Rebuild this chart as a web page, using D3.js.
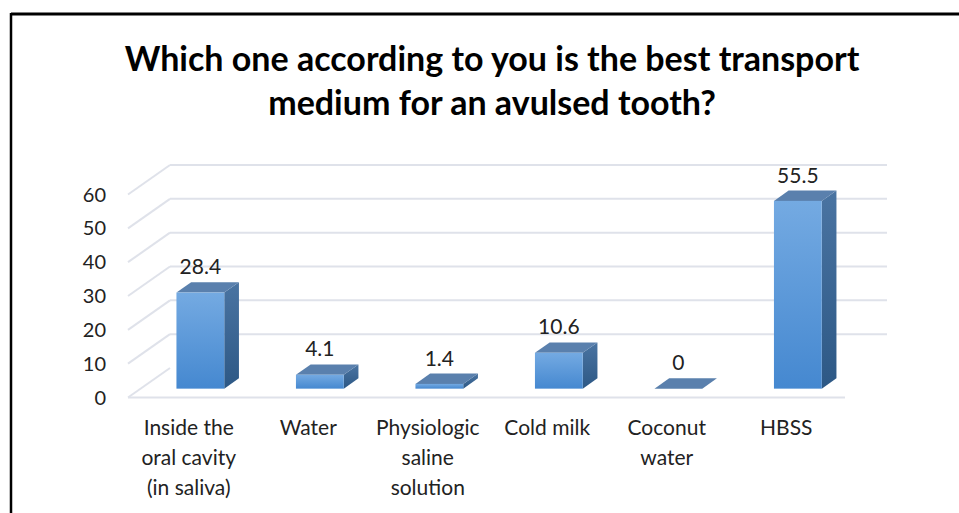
<!DOCTYPE html>
<html>
<head>
<meta charset="utf-8">
<script src="https://cdn.jsdelivr.net/npm/d3@7"></script>
<style>
  body { margin: 0; background: #fff; }
  svg { display: block; font-family: Lato, "Open Sans", sans-serif; }
</style>
</head>
<body>
<svg id="chart" width="959" height="513"></svg>
<script>
// chart data
var categories = [
  ["Inside the", "oral cavity", "(in saliva)"],
  ["Water"],
  ["Physiologic", "saline", "solution"],
  ["Cold milk"],
  ["Coconut", "water"],
  ["HBSS"]
];
var values = [28.4, 4.1, 1.4, 10.6, 0, 55.5];
var yTicks = [0, 10, 20, 30, 40, 50, 60];
var titleLines = ["Which one according to you is the best transport", "medium for an avulsed tooth?"];

var svg = d3.select("#chart");

// frame (only top and left edge are visible in the crop)
svg.append("line").attr("x1", 11).attr("y1", 14).attr("x2", 959).attr("y2", 14)
  .attr("stroke", "#000").attr("stroke-width", 3);
svg.append("line").attr("x1", 11).attr("y1", 13).attr("x2", 11).attr("y2", 513)
  .attr("stroke", "#000").attr("stroke-width", 2.5);

// title
svg.append("g").selectAll("text")
  .data(titleLines)
  .enter().append("text")
  .attr("x", 492)
  .attr("y", (d, i) => 71 + i * 44)
  .attr("text-anchor", "middle")
  .attr("font-size", 34)
  .attr("font-weight", "bold")
  .attr("fill", "#000")
  .text(d => d);

// 3d-ish setup: back wall at depth 0, front edge at depth 1
var X0 = 170, DX = 42, DY = 29.5;
var x = d3.scaleBand()
  .domain(d3.range(categories.length))
  .range([0, 717])
  .paddingInner(0.6)
  .paddingOuter(0.3);
var y = d3.scaleLinear().domain([0, 60]).range([368, 165]);

function px(x0, d) { return X0 + x0 - d * DX; }
function py(v, d) { return y(v) + d * DY; }

// gridlines: back wall line + diagonal on left side wall
var grid = svg.append("g");
yTicks.forEach(function (t) {
  if (t > 0) {
    grid.append("line")
      .attr("x1", px(0, 0)).attr("y1", py(t, 0))
      .attr("x2", px(717, 0)).attr("y2", py(t, 0))
      .attr("stroke", "#dfe2ea").attr("stroke-width", 2);
  }
  grid.append("line")
    .attr("x1", px(0, 1)).attr("y1", py(t, 1))
    .attr("x2", px(0, 0)).attr("y2", py(t, 0))
    .attr("stroke", "#dfe2ea").attr("stroke-width", 2);
});
// floor front edge
grid.append("line")
  .attr("x1", px(0, 1)).attr("y1", py(0, 1))
  .attr("x2", px(717, 1)).attr("y2", py(0, 1))
  .attr("stroke", "#dfe2ea").attr("stroke-width", 2);

// y tick labels
svg.append("g").selectAll("text")
  .data(yTicks)
  .enter().append("text")
  .attr("x", 106)
  .attr("y", d => py(d, 1) + 7)
  .attr("text-anchor", "end")
  .attr("font-size", 20)
  .attr("fill", "#222")
  .text(d => d);

// gradients
var defs = svg.append("defs");
var gFront = defs.append("linearGradient").attr("id", "gFront")
  .attr("x1", 0).attr("y1", 0).attr("x2", 0).attr("y2", 1);
gFront.append("stop").attr("offset", "0%").attr("stop-color", "#74aae2");
gFront.append("stop").attr("offset", "100%").attr("stop-color", "#4588d0");
var gSide = defs.append("linearGradient").attr("id", "gSide")
  .attr("x1", 0).attr("y1", 0).attr("x2", 0).attr("y2", 1);
gSide.append("stop").attr("offset", "0%").attr("stop-color", "#4a74a2");
gSide.append("stop").attr("offset", "100%").attr("stop-color", "#2d5885");

// bars, front face at depth 0.7, back at 0.35
var dF = 0.7, dB = 0.35;
var bars = svg.append("g").selectAll("g")
  .data(values)
  .enter().append("g");

function poly(pts) { return pts.map(p => p.join(",")).join(" "); }

bars.append("polygon") // side
  .attr("points", (d, i) => {
    var r = x(i) + x.bandwidth();
    return poly([[px(r, dF), py(d, dF)], [px(r, dB), py(d, dB)], [px(r, dB), py(0, dB)], [px(r, dF), py(0, dF)]]);
  })
  .attr("fill", "url(#gSide)");

bars.append("polygon") // top
  .attr("points", (d, i) => {
    var l = x(i), r = x(i) + x.bandwidth();
    return poly([[px(l, dF), py(d, dF)], [px(l, dB), py(d, dB)], [px(r, dB), py(d, dB)], [px(r, dF), py(d, dF)]]);
  })
  .attr("fill", "#5a80ad");

bars.append("rect") // front
  .attr("x", (d, i) => px(x(i), dF))
  .attr("y", d => py(d, dF))
  .attr("width", x.bandwidth())
  .attr("height", d => py(0, dF) - py(d, dF))
  .attr("fill", "url(#gFront)");

// value labels
bars.append("text")
  .attr("x", (d, i) => px(x(i) + x.bandwidth() / 2, dF))
  .attr("y", d => py(d, dB) - 8)
  .attr("text-anchor", "middle")
  .attr("font-size", 21)
  .attr("fill", "#222")
  .text(d => d);

// category labels, centred at the front edge of each band
svg.append("g").selectAll("text")
  .data(categories)
  .enter().append("text")
  .attr("x", (d, i) => px(x(i) + x.bandwidth() / 2, 1) + 1)
  .attr("y", 435)
  .attr("text-anchor", "middle")
  .attr("font-size", 21)
  .attr("fill", "#222")
  .each(function (lines) {
    var t = d3.select(this);
    var cx = t.attr("x");
    lines.forEach(function (ln, k) {
      t.append("tspan").attr("x", cx).attr("dy", k === 0 ? 0 : 30).text(ln);
    });
  });
</script>
</body>
</html>
